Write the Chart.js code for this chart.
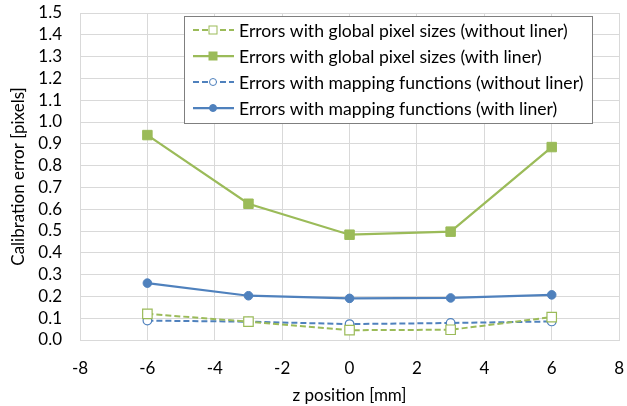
<!DOCTYPE html>
<html><head><meta charset="utf-8">
<script src="https://cdn.jsdelivr.net/npm/chart.js@4/dist/chart.umd.min.js"></script>
<style>html,body{margin:0;padding:0;background:#fff}#wrap{width:627px;height:406px}</style>
</head><body><div id="wrap"><canvas id="c" width="627" height="406"></canvas></div>
<script>
const zPositions = [-6, -3, 0, 3, 6];
const globalWithoutLiner = [0.12, 0.084, 0.045, 0.047, 0.105];
const globalWithLiner = [0.94, 0.625, 0.483, 0.497, 0.885];
const mappingWithoutLiner = [0.089, 0.084, 0.073, 0.078, 0.085];
const mappingWithLiner = [0.261, 0.203, 0.191, 0.193, 0.207];
const seriesLabels = [
  'Errors with global pixel sizes (without liner)',
  'Errors with global pixel sizes (with liner)',
  'Errors with mapping functions (without liner)',
  'Errors with mapping functions (with liner)'
];
const xTitle = 'z position [mm]';
const yTitle = 'Calibration error [pixels]';

const GREEN = '#9bbb59', BLUE = '#4f81bd';
const FONT = 'Lato';
const FS = 17;
const pts = arr => zPositions.map((x, i) => ({x, y: arr[i]}));

const legendPlugin = {
  id: 'boxLegend',
  afterDraw(chart) {
    const ctx = chart.ctx;
    const x0 = 184, y0 = 16, w = 408, h = 107;
    ctx.save();
    ctx.fillStyle = '#fff';
    ctx.fillRect(x0, y0, w, h);
    ctx.strokeStyle = '#7f7f7f';
    ctx.lineWidth = 1;
    ctx.strokeRect(x0 + 0.5, y0 + 0.5, w, h);
    const rows = [30, 56, 82, 108];
    chart.data.datasets.forEach((ds, i) => {
      const y = rows[i];
      ctx.strokeStyle = ds.borderColor;
      ctx.lineWidth = ds.borderWidth;
      ctx.setLineDash(ds.borderDash || []);
      ctx.beginPath(); ctx.moveTo(193, y); ctx.lineTo(234, y); ctx.stroke();
      ctx.setLineDash([]);
      const cx = 213;
      ctx.lineWidth = 1;
      if (ds.pointStyle === 'rect') {
        const s = 8;
        ctx.fillStyle = ds.pointBackgroundColor;
        ctx.fillRect(cx - s/2, y - s/2, s, s);
        ctx.strokeStyle = ds.pointBorderColor;
        ctx.strokeRect(cx - s/2, y - s/2, s, s);
      } else {
        ctx.beginPath(); ctx.arc(cx, y, 3.5, 0, Math.PI*2);
        ctx.fillStyle = ds.pointBackgroundColor; ctx.fill();
        ctx.strokeStyle = ds.pointBorderColor; ctx.stroke();
      }
      ctx.fillStyle = '#000';
      ctx.font = '17.6px ' + FONT;
      ctx.textBaseline = 'middle';
      ctx.textAlign = 'left';
      ctx.fillText(ds.label, 239, y + 1);
    });
    ctx.restore();
  }
};

new Chart(document.getElementById('c'), {
  type: 'scatter',
  data: {
    datasets: [
      {label: seriesLabels[0], data: pts(globalWithoutLiner), showLine: true, borderColor: GREEN, borderWidth: 2, borderDash: [6, 3],
       pointStyle: 'rect', pointRadius: 6.7, pointBackgroundColor: '#fff', pointBorderColor: GREEN, pointBorderWidth: 1.2},
      {label: seriesLabels[1], data: pts(globalWithLiner), showLine: true, borderColor: GREEN, borderWidth: 2.25,
       pointStyle: 'rect', pointRadius: 6.7, pointBackgroundColor: GREEN, pointBorderColor: GREEN, pointBorderWidth: 1},
      {label: seriesLabels[2], data: pts(mappingWithoutLiner), showLine: true, borderColor: BLUE, borderWidth: 2, borderDash: [6, 3],
       pointStyle: 'circle', pointRadius: 4.3, pointBackgroundColor: '#fff', pointBorderColor: BLUE, pointBorderWidth: 1.2},
      {label: seriesLabels[3], data: pts(mappingWithLiner), showLine: true, borderColor: BLUE, borderWidth: 2.25,
       pointStyle: 'circle', pointRadius: 4.3, pointBackgroundColor: BLUE, pointBorderColor: BLUE, pointBorderWidth: 1}
    ]
  },
  options: {
    responsive: false,
    animation: false,
    layout: {padding: {top: 13, right: 0, left: 0, bottom: 0}},
    plugins: {legend: {display: false}, tooltip: {enabled: false}},
    scales: {
      x: {
        type: 'linear', min: -8, max: 8,
        ticks: {stepSize: 2, color: '#000', font: {family: FONT, size: FS}, padding: 0, maxRotation: 0, autoSkip: false},
        grid: {color: '#d9d9d9', lineWidth: 1, drawTicks: true, tickLength: 18, tickColor: 'rgba(0,0,0,0)'},
        border: {color: '#d9d9d9'},
        title: {display: true, text: xTitle, color: '#000', font: {family: FONT, size: FS}, padding: {top: 0, bottom: 0}},
        afterFit(s) { s.height = 66; }
      },
      y: {
        min: 0, max: 1.5,
        ticks: {stepSize: 0.1, color: '#000', font: {family: FONT, size: FS}, padding: 0, autoSkip: false,
                callback: v => Number(v).toFixed(1)},
        grid: {color: '#d9d9d9', lineWidth: 1, drawTicks: true, tickLength: 18, tickColor: 'rgba(0,0,0,0)'},
        border: {color: '#d9d9d9'},
        title: {display: true, text: yTitle, color: '#000', font: {family: FONT, size: FS}, padding: {top: 8, bottom: 4}},
        afterFit(s) { s.width = 80; }
      }
    }
  },
  plugins: [legendPlugin]
});
</script>
</body></html>
